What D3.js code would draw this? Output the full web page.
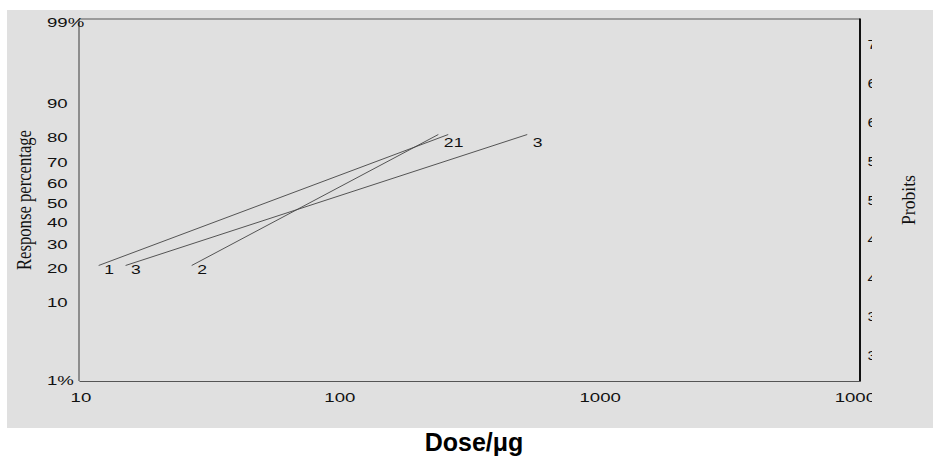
<!DOCTYPE html>
<html>
<head>
<meta charset="utf-8">
<script src="https://cdn.jsdelivr.net/npm/d3@7"></script>
<style>
  body { margin: 0; background: #fff; }
  svg { display: block; }
  .num { font-family: "Liberation Sans", Arial, sans-serif; font-size: 13.5px; fill: #111; }
</style>
</head>
<body>
<div id="chart"></div>
<script>
  // dose axis (log)
  var doseTicks = [10, 100, 1000, 10000];
  var doseTickLabels = ["10", "100", "1000", "10000"];
  // response axis (probit paper)
  var percentTicks = [1, 10, 20, 30, 40, 50, 60, 70, 80, 90, 99];
  var percentTickLabels = ["1%", "10", "20", "30", "40", "50", "60", "70", "80", "90", "99%"];
  var probitTicks = [3, 3.5, 4, 4.5, 5, 5.5, 6, 6.5, 7];
  var probitTickLabels = ["3", "3.5", "4", "4.5", "5", "5.5", "6", "6.5", "7"];
  // fitted lines: response 20% -> 80%
  var seriesNames = ["1", "2", "3"];
  var responsePct = [20, 80];
  var dose1 = [11.9, 262];
  var dose2 = [27.1, 240];
  var dose3 = [15.1, 527];

  var W = 933, H = 457;
  var m = {left: 79, right: 860, top: 19, bottom: 381};

  // inverse normal (Acklam) -> probit = 5 + z
  function probit(p) {
    var a = [-39.69683028665376, 220.9460984245205, -275.9285104469687, 138.3577518672690, -30.66479806614716, 2.506628277459239],
        b = [-54.47609879822406, 161.5858368580409, -155.6989798598866, 66.80131188771972, -13.28068155288572],
        c = [-0.007784894002430293, -0.3223964580411365, -2.400758277161838, -2.549732539343734, 4.374664141464968, 2.938163982698783],
        d = [0.007784695709041462, 0.3224671290700398, 2.445134137142996, 3.754408661907416];
    var q, r, z;
    if (p < 0.02425) {
      q = Math.sqrt(-2 * Math.log(p));
      z = (((((c[0]*q+c[1])*q+c[2])*q+c[3])*q+c[4])*q+c[5]) / ((((d[0]*q+d[1])*q+d[2])*q+d[3])*q+1);
    } else if (p > 1 - 0.02425) {
      q = Math.sqrt(-2 * Math.log(1 - p));
      z = -(((((c[0]*q+c[1])*q+c[2])*q+c[3])*q+c[4])*q+c[5]) / ((((d[0]*q+d[1])*q+d[2])*q+d[3])*q+1);
    } else {
      q = p - 0.5; r = q * q;
      z = (((((a[0]*r+a[1])*r+a[2])*r+a[3])*r+a[4])*r+a[5])*q / (((((b[0]*r+b[1])*r+b[2])*r+b[3])*r+b[4])*r+1);
    }
    return 5 + z;
  }

  var x = d3.scaleLog().domain([10, 10000]).range([m.left, m.right]);
  var yProbit = d3.scaleLinear().domain([probit(0.01), probit(0.99)]).range([m.bottom, m.top]);
  var y = function (pct) { return yProbit(probit(pct / 100)); };

  var svg = d3.select("#chart").append("svg").attr("width", W).attr("height", H);
  svg.append("defs").append("clipPath").attr("id", "clipR")
    .append("rect").attr("x", 0).attr("y", 0).attr("width", 872).attr("height", H);

  svg.append("rect").attr("x", 7).attr("y", 10).attr("width", W - 7).attr("height", 418).attr("fill", "#e0e0e0");

  // frame
  svg.append("line").attr("x1", m.left).attr("x2", m.right).attr("y1", m.top).attr("y2", m.top)
    .attr("stroke", "#555").attr("stroke-width", 1.2);
  svg.append("line").attr("x1", m.left).attr("x2", m.left).attr("y1", m.top).attr("y2", m.bottom)
    .attr("stroke", "#555").attr("stroke-width", 1.2);
  svg.append("line").attr("x1", m.right).attr("x2", m.right).attr("y1", m.top - 0.5).attr("y2", m.bottom + 0.5)
    .attr("stroke", "#111").attr("stroke-width", 2);

  // bottom axis
  var xAxis = svg.append("g").attr("transform", "translate(0," + m.bottom + ")")
    .attr("clip-path", "url(#clipR)")
    .call(d3.axisBottom(x).tickValues(doseTicks).tickFormat(function (d, i) { return doseTickLabels[i]; })
      .tickSize(-2).tickSizeOuter(0).tickPadding(0));
  xAxis.select(".domain").attr("stroke", "#555").attr("stroke-width", 1.2);
  xAxis.selectAll(".tick line").attr("stroke", "#555");
  xAxis.selectAll(".tick text").attr("class", "num").attr("font-size", null).attr("font-family", null)
    .attr("y", 16).attr("dy", "0.35em").attr("transform", "scale(1.38,1)");
  xAxis.select(".tick text").attr("x", 1);

  // left labels
  svg.append("g").selectAll("text").data(percentTicks).join("text")
    .attr("class", "num")
    .attr("transform", function (d) { return "translate(47," + (d === 1 ? y(d) - 1 : y(d) + 3) + ") scale(1.38,1)"; })
    .attr("dy", "0.35em")
    .text(function (d, i) { return percentTickLabels[i]; });

  // right probit labels, clipped like the original
  svg.append("g").attr("clip-path", "url(#clipR)").selectAll("text").data(probitTicks).join("text")
    .attr("class", "num")
    .attr("transform", function (d) { return "translate(867.5," + yProbit(d) + ") scale(1.2,1)"; })
    .attr("dy", "0.35em")
    .text(function (d, i) { return probitTickLabels[i]; });

  // lines
  var series = [dose1, dose2, dose3].map(function (doses, i) {
    return {name: seriesNames[i], pts: doses.map(function (dv, j) { return [dv, responsePct[j]]; })};
  });
  var line = d3.line().x(function (d) { return x(d[0]); }).y(function (d) { return y(d[1]); });
  svg.append("g").selectAll("path").data(series).join("path")
    .attr("d", function (s) { return line(s.pts); })
    .attr("fill", "none").attr("stroke", "#444").attr("stroke-width", 0.9);

  var labels = [];
  series.forEach(function (s) {
    labels.push({name: s.name, px: x(s.pts[0][0]), py: y(s.pts[0][1]), dy: 3.5});
    labels.push({name: s.name, px: x(s.pts[1][0]), py: y(s.pts[1][1]), dy: 7.5});
  });
  svg.append("g").selectAll("text").data(labels).join("text")
    .attr("class", "num")
    .attr("transform", function (d) { return "translate(" + (d.px + 5.5) + "," + (d.py + d.dy) + ") scale(1.3,1)"; })
    .attr("dy", "0.35em")
    .text(function (d) { return d.name; });

  // axis titles
  svg.append("text")
    .attr("transform", "translate(31,200) rotate(-90)")
    .attr("text-anchor", "middle")
    .attr("font-family", "'Liberation Serif', 'Times New Roman', serif")
    .attr("font-size", 20).attr("fill", "#111")
    .attr("textLength", 140).attr("lengthAdjust", "spacingAndGlyphs")
    .text("Response percentage");
  svg.append("text")
    .attr("transform", "translate(915,200) rotate(-90)")
    .attr("text-anchor", "middle")
    .attr("font-family", "'Liberation Serif', 'Times New Roman', serif")
    .attr("font-size", 19).attr("fill", "#111")
    .attr("textLength", 50).attr("lengthAdjust", "spacingAndGlyphs")
    .text("Probits");
  svg.append("text")
    .attr("x", 474).attr("y", 451)
    .attr("text-anchor", "middle")
    .attr("font-family", "'Liberation Sans', Arial, sans-serif")
    .attr("font-weight", "bold").attr("font-size", 25).attr("fill", "#000")
    .text("Dose/μg");
</script>
</body>
</html>
